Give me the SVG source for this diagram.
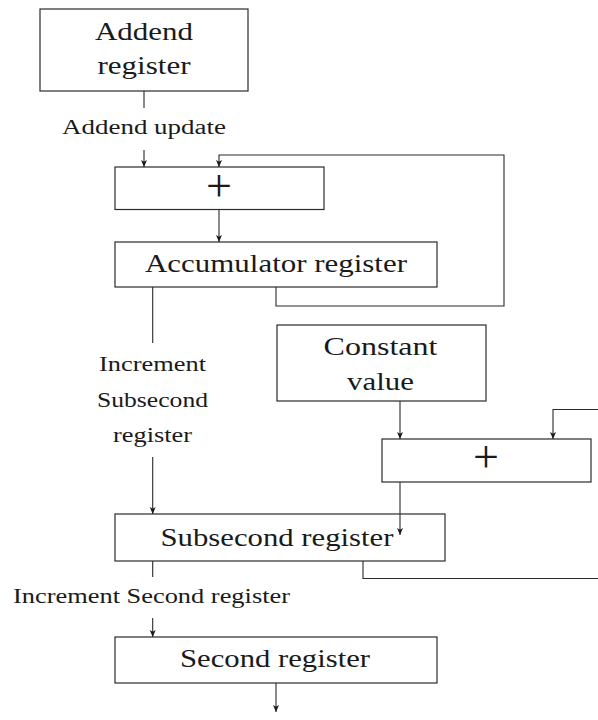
<svg xmlns="http://www.w3.org/2000/svg" width="598" height="720" viewBox="0 0 598 720">
  <style>
    .box { fill: #ffffff; stroke: #2a2a2a; stroke-width: 1.2; }
    .wire { fill: none; stroke: #2a2a2a; stroke-width: 1.1; }
    .lbl { fill: #1a1a1a; text-anchor: middle; }
    .big { font-size: 25px; }
    .small { font-size: 20.5px; }
    .op { font-size: 46px; fill: #1a1a1a; text-anchor: middle; }
  </style>
  <defs>
    <marker id="tip" viewBox="0 -3.5 7 7" refX="7" refY="0" markerWidth="7" markerHeight="7" markerUnits="userSpaceOnUse" orient="auto">
      <path d="M0,-3 L7,0 L0,3 L1.8,0 Z" fill="#1a1a1a"/>
    </marker>
  </defs>

  <rect width="598" height="720" fill="#ffffff"/>

  <g id="addend-register">
    <rect class="box" x="40" y="9" width="208" height="82"/>
    <text class="lbl big" style="font-family:'Liberation Serif'" x="144" y="40" textLength="98" lengthAdjust="spacingAndGlyphs">Addend</text>
    <text class="lbl big" style="font-family:'Liberation Serif'" x="144" y="74" textLength="93" lengthAdjust="spacingAndGlyphs">register</text>
  </g>

  <g id="addend-update-label">
    <text class="lbl small" style="font-family:'Liberation Serif', serif" x="144" y="134" textLength="164" lengthAdjust="spacingAndGlyphs">Addend update</text>
  </g>

  <g id="adder-accumulator">
    <rect class="box" x="115" y="167" width="209" height="42.5"/>
    <text class="op" style="font-family:'Liberation Serif'" x="219" y="201">+</text>
  </g>

  <g id="accumulator-register">
    <rect class="box" x="115" y="242" width="322" height="45"/>
    <text class="lbl big" style="font-family:'Liberation Serif'" x="276" y="272" textLength="262" lengthAdjust="spacingAndGlyphs">Accumulator register</text>
  </g>

  <g id="increment-subsecond-label">
    <text class="lbl small" style="font-family:'Liberation Serif', serif" x="152.5" y="371" textLength="107" lengthAdjust="spacingAndGlyphs">Increment</text>
    <text class="lbl small" style="font-family:'Liberation Serif', serif" x="152.5" y="407" textLength="111" lengthAdjust="spacingAndGlyphs">Subsecond</text>
    <text class="lbl small" style="font-family:'Liberation Serif', serif" x="152.5" y="442" textLength="79" lengthAdjust="spacingAndGlyphs">register</text>
  </g>

  <g id="constant-value">
    <rect class="box" x="277" y="325" width="209" height="76"/>
    <text class="lbl big" style="font-family:'Liberation Serif'" x="380.5" y="355" textLength="114" lengthAdjust="spacingAndGlyphs">Constant</text>
    <text class="lbl big" style="font-family:'Liberation Serif'" x="380.5" y="390" textLength="67" lengthAdjust="spacingAndGlyphs">value</text>
  </g>

  <g id="adder-subsecond">
    <rect class="box" x="382" y="439" width="209" height="43"/>
    <text class="op" style="font-family:'Liberation Serif'" x="486" y="472">+</text>
  </g>

  <g id="subsecond-register">
    <rect class="box" x="115" y="514" width="330" height="47"/>
    <text class="lbl big" style="font-family:'Liberation Serif'" x="277" y="546" textLength="233" lengthAdjust="spacingAndGlyphs">Subsecond register</text>
  </g>

  <g id="increment-second-label">
    <text class="lbl small" style="font-family:'Liberation Serif', serif" x="151.5" y="603" textLength="277" lengthAdjust="spacingAndGlyphs">Increment Second register</text>
  </g>

  <g id="second-register">
    <rect class="box" x="115" y="637" width="322" height="46"/>
    <text class="lbl big" style="font-family:'Liberation Serif'" x="275" y="667" textLength="190" lengthAdjust="spacingAndGlyphs">Second register</text>
  </g>

  <!-- wiring between the registers and adders, drawn over the boxes -->
  <g id="connectors">
    <path class="wire" d="M144,91 V108"/>
    <path class="wire" d="M144,150 V167" marker-end="url(#tip)"/>
    <path class="wire" d="M276,287 V306 H504 V155 H219 V167" marker-end="url(#tip)"/>
    <path class="wire" d="M219,210 V242" marker-end="url(#tip)"/>
    <path class="wire" d="M152.7,287 V343"/>
    <path class="wire" d="M152.7,457 V514" marker-end="url(#tip)"/>
    <path class="wire" d="M400,401 V439" marker-end="url(#tip)"/>
    <path class="wire" d="M606,409.5 H553 V439" marker-end="url(#tip)"/>
    <path class="wire" d="M400,482 V535" marker-end="url(#tip)"/>
    <path class="wire" d="M363,561 V578.5 H606"/>
    <path class="wire" d="M152.7,561 V577"/>
    <path class="wire" d="M152.7,618 V637" marker-end="url(#tip)"/>
    <path class="wire" d="M276,683 V712" marker-end="url(#tip)"/>
  </g>
</svg>
